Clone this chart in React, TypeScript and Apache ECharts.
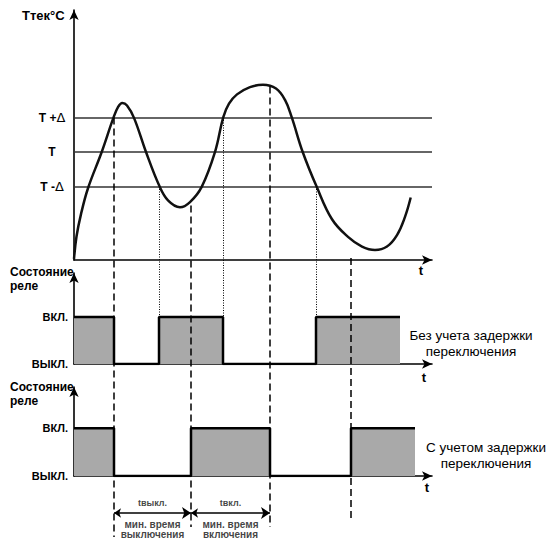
import React, { useEffect, useRef } from "react";
import * as echarts from "echarts";

// ---- data (time in arbitrary units, temperature relative to setpoint T, Δ = 1) ----
const curveTimes = [0, 2.5, 7, 14, 27.7, 39.3, 44, 48.3, 53, 60, 72, 85.3, 94, 106, 116, 127.7, 141, 149.3, 155, 163, 176, 189, 202, 211, 217.7, 228.7, 242.7, 258, 274, 288, 301, 313, 323, 331, 336.7];
const curveTemps = [-3.1, -2.45, -1.8, -1.05, 0, 0.98, 1.3, 1.42, 1.35, 0.99, 0, -0.98, -1.4, -1.6, -1.45, -1.01, 0, 1.01, 1.4, 1.67, 1.88, 1.95, 1.84, 1.51, 1.01, 0, -1.01, -1.95, -2.46, -2.74, -2.84, -2.74, -2.41, -1.88, -1.32];
const thresholdValues = [1, 0, -1];
const thresholdNames = ["T +Δ", "T", "T -Δ"];

const relay1Times = [0, 40, 85, 149, 242, 326];
const relay1States = [1, 0, 1, 0, 1];
const relay2Times = [0, 40, 117, 196, 277, 341];
const relay2States = [1, 0, 1, 0, 1];
const relayLevelValues = [0, 1];
const relayLevelNames = ["ВЫКЛ.", "ВКЛ."];

const dashedGuideTimes = [40, 117, 196, 277];
const dashedGuideStartTemps = [1, -1.55, 1.9, -3.07];
const dottedGuideTimes = [85, 149, 242];
const dottedGuideStartTemps = [-1, 1, -1];

const intervalStarts = [40, 117];
const intervalEnds = [117, 196];
const intervalNames = ["tвыкл.", "tвкл."];
const intervalCaption1 = ["мин. время", "мин. время"];
const intervalCaption2 = ["выключения", "включения"];

// ---- layout ----
const TIME_MAX = 358;
const TEMP_MIN = -3.13;
const TEMP_MAX = 4.116;
const TOP = 10;
const TOP_H = 250;
const rowValue = (py: number) => TEMP_MAX - ((py - TOP) / TOP_H) * (TEMP_MAX - TEMP_MIN);
const dashedGuideEndRows = [537, 527, 527, 522];
const dottedGuideEndRow = 317;
const arrowRow = 513;
const nameRow = 503;
const caption1Row = 524;
const caption2Row = 534;

const FONT = "Liberation Sans, Arial, sans-serif";

function stepPoints(times: number[], states: number[]) {
  const pts: number[][] = [];
  for (let i = 0; i < states.length; i++) {
    pts.push([times[i], states[i]]);
    pts.push([times[i + 1], states[i]]);
  }
  return pts;
}

const arrowAxisLine = {
  show: true,
  onZero: false,
  symbol: ["none", "arrow"],
  symbolSize: [7, 10],
  lineStyle: { color: "#000", width: 1.6 },
};

export default function App() {
  const ref = useRef<HTMLDivElement>(null);
  useEffect(() => {
    if (!ref.current) return;
    const chart = echarts.init(ref.current, undefined, { renderer: "svg" });

    const xAxisBase = (gridIndex: number, show = true) => ({
      type: "value",
      gridIndex,
      min: 0,
      max: TIME_MAX,
      show,
      axisLine: arrowAxisLine,
      axisTick: { show: false },
      axisLabel: { show: false },
      splitLine: { show: false },
    });

    const relayYAxis = (gridIndex: number, max: number) => ({
      type: "value",
      gridIndex,
      min: 0,
      max,
      axisLine: arrowAxisLine,
      axisTick: { show: false },
      splitLine: { show: false },
      axisLabel: {
        customValues: relayLevelValues,
        formatter: (v: number) => relayLevelNames[relayLevelValues.indexOf(v)] ?? "",
        margin: 6,
        color: "#000",
        fontWeight: "bold",
        fontSize: 11,
        fontFamily: FONT,
      },
    });

    const relaySeries = (idx: number, times: number[], states: number[]) => ({
      type: "line",
      xAxisIndex: idx,
      yAxisIndex: idx,
      data: stepPoints(times, states),
      symbol: "none",
      lineStyle: { color: "#000", width: 2.5 },
      areaStyle: { color: "#a9a9a9", opacity: 1 },
      z: 3,
    });

    const textEl = (text: string, x: number, y: number, style: any = {}) => ({
      type: "text",
      x,
      y,
      style: {
        text,
        fill: "#000",
        font: `bold 12px ${FONT}`,
        textVerticalAlign: "middle",
        ...style,
      },
    });

    const option: any = {
      animation: false,
      grid: [
        { left: 74, top: TOP, width: TIME_MAX, height: TOP_H },
        { left: 74, top: 273, width: TIME_MAX, height: 91 },
        { left: 74, top: 387, width: TIME_MAX, height: 89 },
        { left: 74, top: TOP, width: TIME_MAX, height: 530 },
      ],
      xAxis: [xAxisBase(0), xAxisBase(1), xAxisBase(2), xAxisBase(3, false)],
      yAxis: [
        {
          type: "value",
          gridIndex: 0,
          min: TEMP_MIN,
          max: TEMP_MAX,
          axisLine: arrowAxisLine,
          axisTick: { show: false },
          splitLine: { show: false },
          axisLabel: {
            customValues: thresholdValues,
            formatter: (v: number) => {
              const n = thresholdNames[thresholdValues.indexOf(v)] ?? "";
              if (n.endsWith("Δ")) return `{b|${n.slice(0, -1)}}{d|Δ}`;
              return `{b|${n}}`;
            },
            align: "center",
            margin: 22,
            rich: {
              b: { fontWeight: "bold", fontSize: 12, color: "#000", fontFamily: FONT },
              d: { fontWeight: "normal", fontSize: 13, color: "#000", fontFamily: "DejaVu Sans" },
            },
          },
        },
        relayYAxis(1, 1.936),
        relayYAxis(2, 1.866),
        { type: "value", gridIndex: 3, min: rowValue(540), max: TEMP_MAX, show: false },
      ],
      series: [
        {
          type: "line",
          xAxisIndex: 0,
          yAxisIndex: 0,
          data: curveTimes.map((t, i) => [t, curveTemps[i]]),
          smooth: 0.4,
          symbol: "none",
          lineStyle: { color: "#111", width: 2.5 },
          z: 4,
          markLine: {
            silent: true,
            symbol: "none",
            label: { show: false },
            lineStyle: { color: "#333", width: 1.5, type: "solid" },
            data: thresholdValues.map((v) => ({ yAxis: v })),
            z: 2,
          },
        },
        relaySeries(1, relay1Times, relay1States),
        relaySeries(2, relay2Times, relay2States),
        {
          type: "lines",
          coordinateSystem: "cartesian2d",
          xAxisIndex: 3,
          yAxisIndex: 3,
          silent: true,
          lineStyle: { color: "#000", width: 1.5, type: [7, 4], opacity: 1 },
          data: dashedGuideTimes.map((t, i) => ({
            coords: [
              [t, dashedGuideStartTemps[i]],
              [t, rowValue(dashedGuideEndRows[i])],
            ],
          })),
          z: 5,
        },
        {
          type: "lines",
          coordinateSystem: "cartesian2d",
          xAxisIndex: 3,
          yAxisIndex: 3,
          silent: true,
          lineStyle: { color: "#000", width: 1, type: [1, 1.5], opacity: 1 },
          data: dottedGuideTimes.map((t, i) => ({
            coords: [
              [t, dottedGuideStartTemps[i]],
              [t, rowValue(dottedGuideEndRow)],
            ],
          })),
          z: 5,
        },
        {
          type: "lines",
          coordinateSystem: "cartesian2d",
          xAxisIndex: 3,
          yAxisIndex: 3,
          silent: true,
          symbol: ["arrow", "arrow"],
          symbolSize: [7, 9],
          lineStyle: { color: "#000", width: 1.6, opacity: 1 },
          data: intervalStarts.map((s, i) => ({
            coords: [
              [s, rowValue(arrowRow)],
              [intervalEnds[i], rowValue(arrowRow)],
            ],
          })),
          z: 5,
        },
        {
          type: "scatter",
          xAxisIndex: 3,
          yAxisIndex: 3,
          silent: true,
          symbolSize: 0,
          data: [
            ...intervalNames.map((n, i) => ({
              value: [(intervalStarts[i] + intervalEnds[i]) / 2, rowValue(nameRow)],
              label: { formatter: n, fontSize: 9 },
            })),
            ...intervalCaption1.map((n, i) => ({
              value: [(intervalStarts[i] + intervalEnds[i]) / 2, rowValue(caption1Row)],
              label: { formatter: n },
            })),
            ...intervalCaption2.map((n, i) => ({
              value: [(intervalStarts[i] + intervalEnds[i]) / 2, rowValue(caption2Row)],
              label: { formatter: n },
            })),
          ],
          label: {
            show: true,
            position: "inside",
            color: "#111",
            fontWeight: "bold",
            fontSize: 10,
            fontFamily: FONT,
          },
          z: 6,
        },
      ],
      graphic: [
        textEl("Ттек°С", 22, 15, { font: `bold 13px ${FONT}` }),
        textEl("Состояние", 10, 272),
        textEl("реле", 10, 286),
        textEl("Состояние", 10, 387),
        textEl("реле", 10, 401),
        textEl("t", 421, 270, { font: `bold 13px ${FONT}`, textAlign: "center" }),
        textEl("t", 424, 377, { font: `bold 13px ${FONT}`, textAlign: "center" }),
        textEl("t", 427, 487, { font: `bold 13px ${FONT}`, textAlign: "center" }),
        textEl("Без учета задержки", 471, 335, { font: `13.5px ${FONT}`, textAlign: "center" }),
        textEl("переключения", 471, 351, { font: `13.5px ${FONT}`, textAlign: "center" }),
        textEl("С учетом задержки", 486, 447, { font: `13.5px ${FONT}`, textAlign: "center" }),
        textEl("переключения", 486, 463, { font: `13.5px ${FONT}`, textAlign: "center" }),
      ],
    };

    chart.setOption(option);
    return () => chart.dispose();
  }, []);

  return (
    <div
      ref={ref}
      style={{ position: "fixed", left: 0, top: 0, width: 550, height: 540, background: "#fff" }}
    />
  );
}
